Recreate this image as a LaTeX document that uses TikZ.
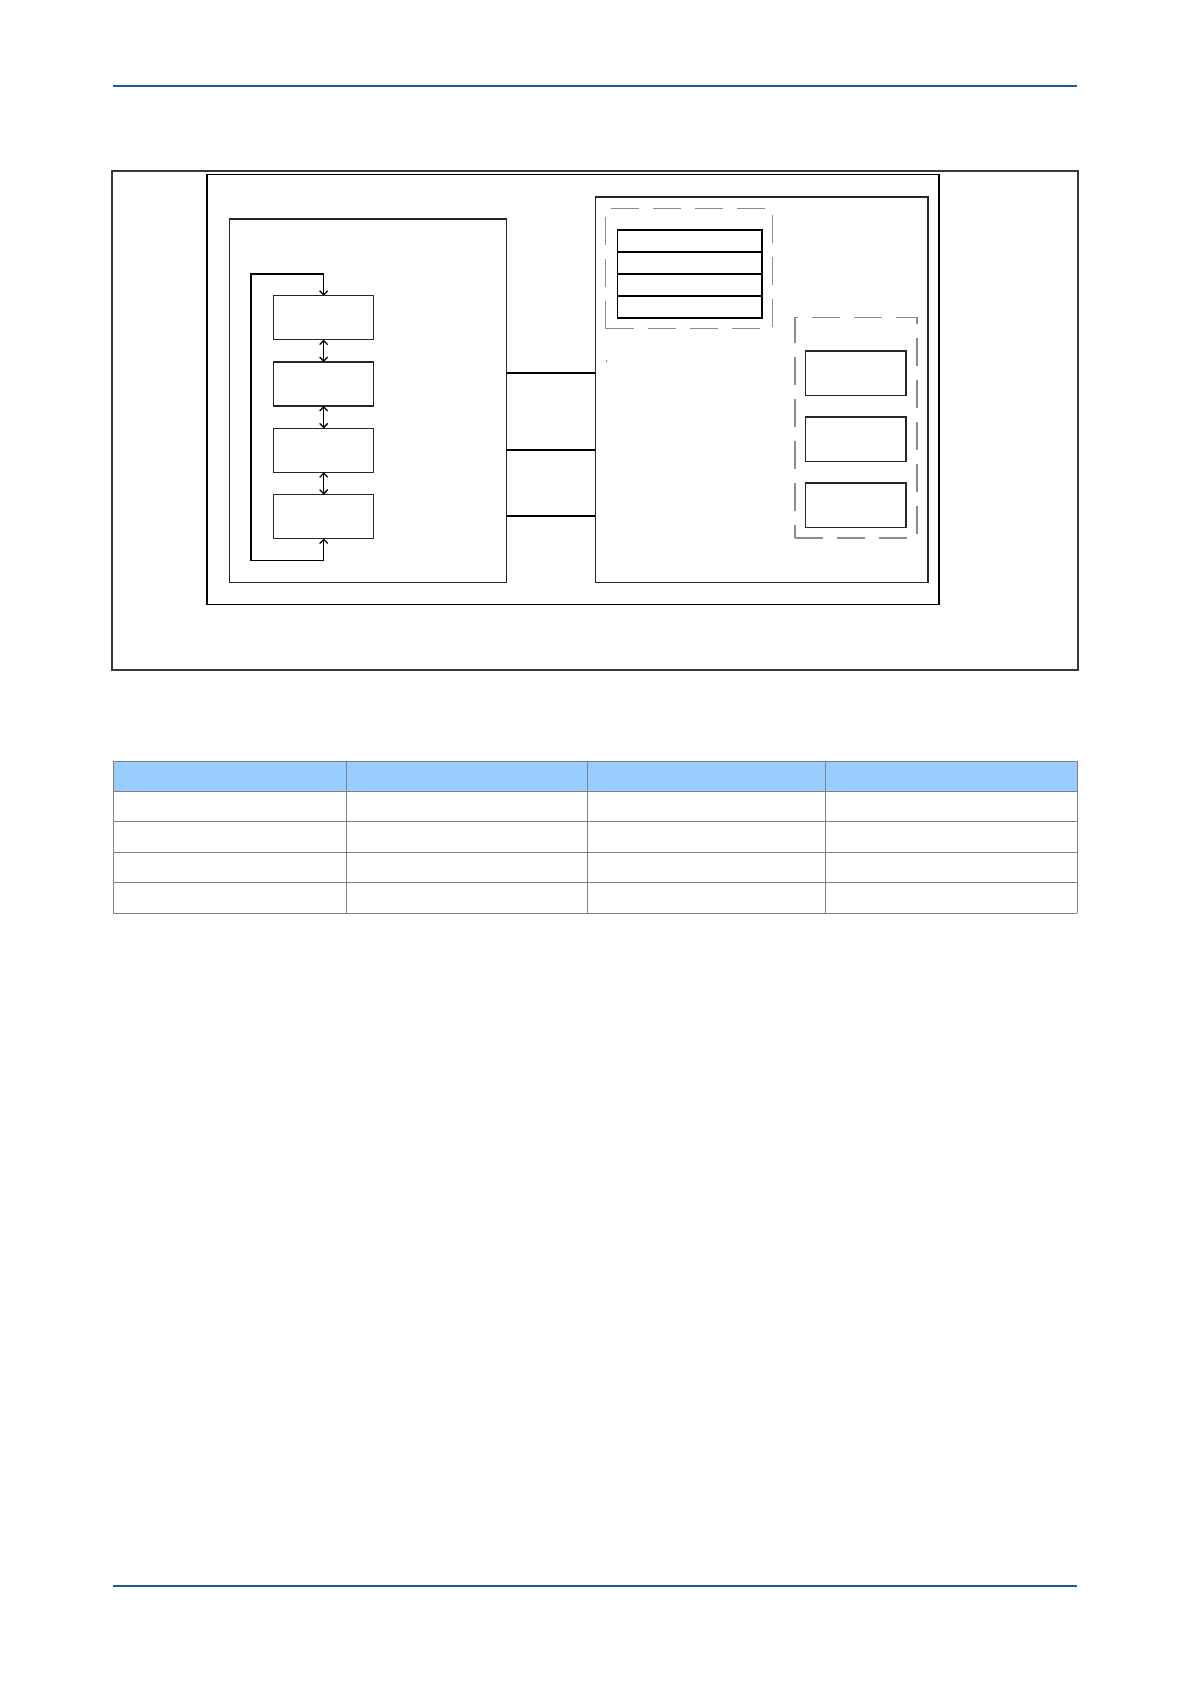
\documentclass[tikz,border=0pt]{standalone}
\usepackage{tikz}
\usetikzlibrary{positioning,calc,arrows.meta}
\definecolor{rulecol}{RGB}{24,92,152}
\definecolor{headfill}{RGB}{153,204,255}
\definecolor{gridcol}{RGB}{128,128,128}
\def\ChainW{100pt}
\def\ChainH{44pt}
\def\ChainGap{22.3pt}
\def\RowW{144.7pt}
\def\RowH{22pt}
\tikzset{
  blk/.style={draw=black!85,rectangle,inner sep=0pt,outer sep=0pt,line width=1.3pt},
  grp/.style={draw=black!45,rectangle,inner sep=0pt,outer sep=0pt,line width=1.2pt,dash pattern=on 28pt off 14pt},
  wire/.style={line width=1.2pt},
  link/.style={line width=1.3pt,{Straight Barb[length=4pt,width=8pt]}-{Straight Barb[length=4pt,width=8pt]}},
}
\begin{document}
\begin{tikzpicture}[x=1pt,y=-1pt]
  \useasboundingbox (0,0) rectangle (1191,1684);
  % page rules
  \draw[rulecol,line width=2.3pt] (113.3,85.7) -- (1077,85.7);
  \draw[rulecol,line width=2.3pt] (113.3,1585.7) -- (1077,1585.7);
  % frames
  \node[blk,draw=black!78,line width=1.7pt,minimum width=966pt,minimum height=499pt] (frame) at (595,420.5) {};
  \node[blk,draw=black,line width=1.6pt,minimum width=732pt,minimum height=429.8pt] (device) at (573,389.4) {};
  \node[blk,line width=1.3pt,minimum width=277pt,minimum height=363.3pt] (leftblk) at (367.8,400.65) {};
  \node[blk,line width=1.4pt,minimum width=332.7pt,minimum height=385.3pt] (rightblk) at (761.65,389.65) {};
  % chain
  \node[blk,minimum width=\ChainW,minimum height=\ChainH] (c1) at (323.7,317.7) {};
  \node[blk,minimum width=\ChainW,minimum height=\ChainH,below=\ChainGap of c1] (c2) {};
  \node[blk,minimum width=\ChainW,minimum height=\ChainH,below=\ChainGap of c2] (c3) {};
  \node[blk,minimum width=\ChainW,minimum height=\ChainH,below=\ChainGap of c3] (c4) {};
  \coordinate (looptop) at (251,274);
  \coordinate (loopbot) at (251,560.3);
  \draw[link] (c1) -- (c2);
  \draw[link] (c2) -- (c3);
  \draw[link] (c3) -- (c4);
  \draw[link] (c4.south) -- (c4.south |- loopbot) -- (loopbot) -- (looptop) -- (c1.north |- looptop) -- (c1.north);
  % register stack
  \node[grp,minimum width=166.6pt,minimum height=120.4pt] (stack) at (689,268.5) {};
  \node[blk,draw=black,line width=1.5pt,minimum width=\RowW,minimum height=\RowH] (r1) at (689.65,241) {};
  \node[blk,draw=black,line width=1.5pt,minimum width=\RowW,minimum height=\RowH,below=0pt of r1] (r2) {};
  \node[blk,draw=black,line width=1.5pt,minimum width=\RowW,minimum height=\RowH,below=0pt of r2] (r3) {};
  \node[blk,draw=black,line width=1.5pt,minimum width=\RowW,minimum height=\RowH,below=0pt of r3] (r4) {};
  % unit group
  \node[grp,minimum width=122pt,minimum height=220.5pt] (units) at (856,427.75) {};
  \node[blk,minimum width=100.3pt,minimum height=44.3pt] (u1) at (855.85,373.15) {};
  \node[blk,minimum width=100.3pt,minimum height=44.3pt,below=21.7pt of u1] (u2) {};
  \node[blk,minimum width=100.3pt,minimum height=44.3pt,below=21.7pt of u2] (u3) {};
  \fill (606.7,361) circle (0.7pt);
  % bus lines
  \coordinate (p1) at ($(leftblk.north east)+(0,154)$);
  \coordinate (p2) at ($(leftblk.north east)+(0,231)$);
  \coordinate (p3) at ($(leftblk.north east)+(0,297)$);
  \draw[wire,line width=1.6pt] (p1) -- (p1 -| rightblk.west);
  \draw[wire] (p2) -- (p2 -| rightblk.west);
  \draw[wire] (p3) -- (p3 -| rightblk.west);
  % table
  \fill[headfill] (113.3,761) rectangle (1077.3,791.3);
  \foreach \y in {761,791.3,821,852.3,882.3,913.3}
    \draw[gridcol,line width=1pt] (113.3,\y) -- (1077.3,\y);
  \foreach \x in {113.3,346.3,587.3,825.3,1077.3}
    \draw[gridcol,line width=1pt] (\x,761) -- (\x,913.3);
\end{tikzpicture}
\end{document}
